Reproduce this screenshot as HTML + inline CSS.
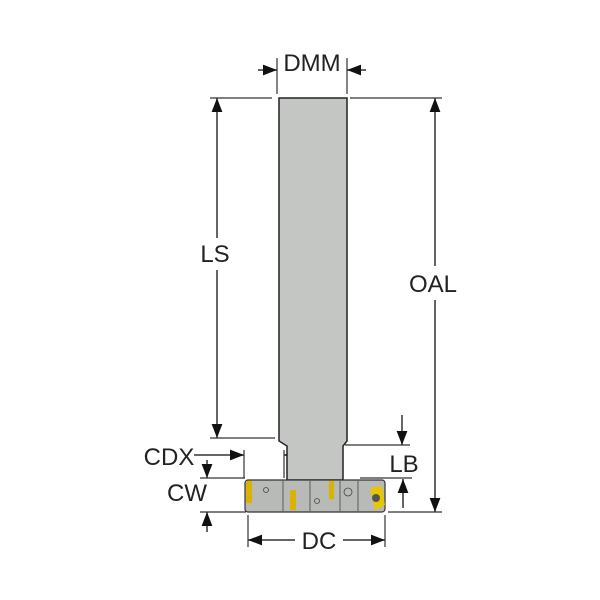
<!DOCTYPE html>
<html><head><style>body{margin:0;background:#fff}svg{display:block}text{font-family:"Liberation Sans Narrow","Liberation Sans",sans-serif;font-size:24px;fill:#222}</style></head>
<body>
<svg width="600" height="600" viewBox="0 0 600 600">
<defs>
<marker id="a" markerWidth="14" markerHeight="12" refX="13" refY="5" orient="auto" markerUnits="userSpaceOnUse" viewBox="0 0 13 10"><path d="M0,0 L13,5 L0,10 z" fill="#111"/></marker>
</defs>
<g stroke="#333" stroke-width="1.2" fill="none">
<line x1="277" y1="58" x2="277" y2="94"/><line x1="347" y1="58" x2="347" y2="94"/>
<line x1="258" y1="70" x2="277" y2="70" marker-end="url(#a)" stroke-width="1.5"/>
<line x1="366" y1="70" x2="347" y2="70" marker-end="url(#a)" stroke-width="1.5"/>
<line x1="210" y1="98" x2="272" y2="98"/><line x1="350" y1="98" x2="442" y2="98"/>
<line x1="217" y1="238" x2="217" y2="98" marker-end="url(#a)" stroke-width="1.5"/>
<line x1="217" y1="270" x2="217" y2="438" marker-end="url(#a)" stroke-width="1.5"/>
<line x1="210" y1="438" x2="275" y2="438"/>
<line x1="435" y1="266" x2="435" y2="98" marker-end="url(#a)" stroke-width="1.5"/>
<line x1="435" y1="300" x2="435" y2="512" marker-end="url(#a)" stroke-width="1.5"/>
<line x1="388" y1="512" x2="442" y2="512"/>
<line x1="345" y1="445" x2="410" y2="445"/>
<line x1="402" y1="415" x2="402" y2="445" marker-end="url(#a)" stroke-width="1.5"/>
<line x1="360" y1="478" x2="412" y2="478"/>
<line x1="403" y1="508" x2="403" y2="479" marker-end="url(#a)" stroke-width="1.5"/>
<line x1="244" y1="450" x2="244" y2="478"/><line x1="284" y1="450" x2="284" y2="478"/>
<line x1="194" y1="455" x2="244" y2="455" marker-end="url(#a)" stroke-width="1.5"/>
<line x1="310" y1="455" x2="284" y2="455" marker-end="url(#a)" stroke-width="1.5"/>
<line x1="200" y1="478" x2="245" y2="478"/><line x1="200" y1="512" x2="246" y2="512"/>
<line x1="207" y1="460" x2="207" y2="478" marker-end="url(#a)" stroke-width="1.5"/>
<line x1="207" y1="532" x2="207" y2="512" marker-end="url(#a)" stroke-width="1.5"/>
<line x1="248" y1="515" x2="248" y2="547"/><line x1="385" y1="515" x2="385" y2="547"/>
<line x1="295" y1="540" x2="248" y2="540" marker-end="url(#a)" stroke-width="1.5"/>
<line x1="343" y1="540" x2="385" y2="540" marker-end="url(#a)" stroke-width="1.5"/>
</g>
<path d="M279,98 H347 V441 L343,446 V480 H287 V446 L279,441 Z" fill="#c4c6c4" stroke="#222" stroke-width="1.5"/>
<rect x="245" y="480" width="140" height="32" rx="3" fill="#b8bab8" stroke="#333" stroke-width="1.2"/>
<g stroke="#444" stroke-width="0.8" fill="none">
<line x1="283" y1="481" x2="283" y2="511"/><line x1="310" y1="481" x2="310" y2="511"/>
<line x1="340" y1="481" x2="340" y2="511"/><line x1="358" y1="481" x2="358" y2="511"/>
<circle cx="266" cy="490" r="2.5"/><circle cx="317" cy="501" r="2.5"/><circle cx="348" cy="492" r="4"/>
</g>
<rect x="246" y="481" width="6" height="22" fill="#d9b300"/>
<rect x="290" y="490" width="6" height="20" fill="#d9b300"/>
<rect x="329" y="481" width="5" height="18" fill="#d9b300"/>
<path d="M370,488 L382,486 L385,505 L375,510 Z" fill="#e8c600"/>
<circle cx="376" cy="498" r="4" fill="#555"/>
<text x="312" y="71" text-anchor="middle">DMM</text>
<text x="215" y="262" text-anchor="middle">LS</text>
<text x="433" y="292" text-anchor="middle">OAL</text>
<text x="404" y="472" text-anchor="middle">LB</text>
<text x="169" y="465" text-anchor="middle">CDX</text>
<text x="187" y="501" text-anchor="middle">CW</text>
<text x="319" y="549" text-anchor="middle">DC</text>
</svg>
</body></html>
